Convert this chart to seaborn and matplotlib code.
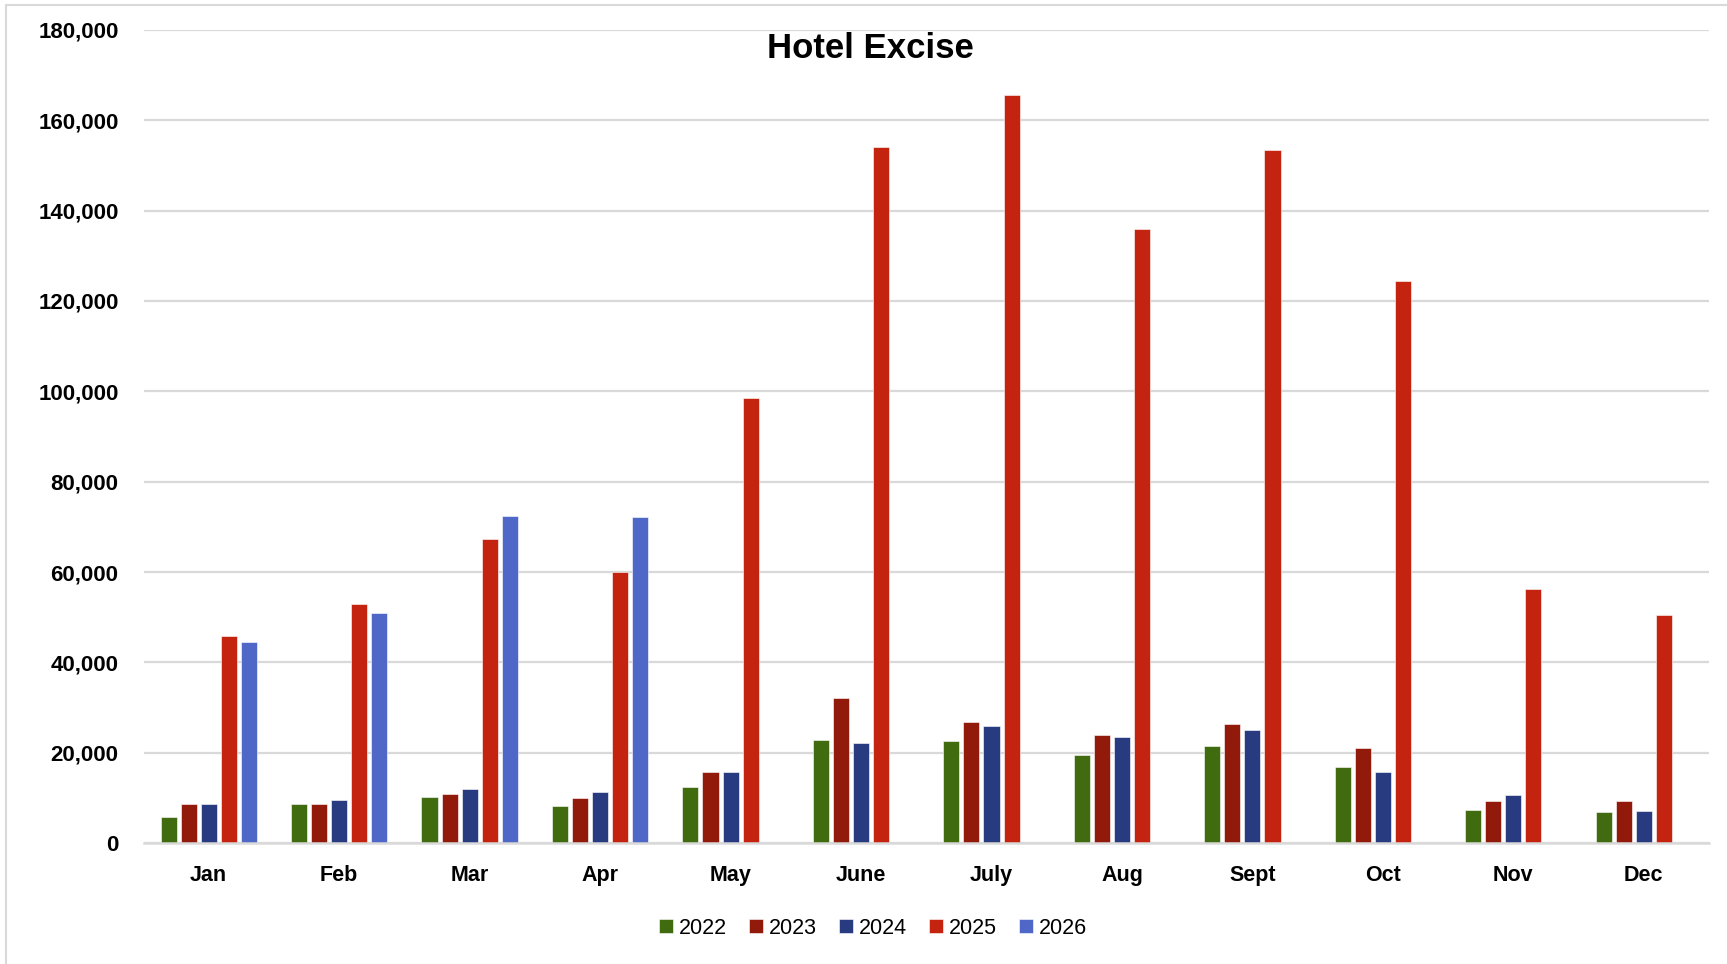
import matplotlib
matplotlib.use("Agg")
import matplotlib.pyplot as plt
import seaborn as sns
import pandas as pd
import numpy as np
from matplotlib.patches import Rectangle
from matplotlib.ticker import FuncFormatter

months = ["Jan", "Feb", "Mar", "Apr", "May", "June", "July", "Aug", "Sept", "Oct", "Nov", "Dec"]
years = ["2022", "2023", "2024", "2025", "2026"]
v2022 = [5800, 8700, 10100, 8100, 12400, 22700, 22500, 19400, 21400, 16800, 7400, 6900]
v2023 = [8600, 8700, 10900, 10000, 15700, 32100, 26900, 24000, 26400, 21100, 9400, 9200]
v2024 = [8600, 9600, 12000, 11200, 15700, 22100, 26000, 23400, 25000, 15800, 10600, 7000]
v2025 = [45800, 53000, 67300, 59900, 98500, 154100, 165600, 135900, 153400, 124400, 56300, 50500]
v2026 = [44500, 51000, 72400, 72100, np.nan, np.nan, np.nan, np.nan, np.nan, np.nan, np.nan, np.nan]
colors = ["#406b0e", "#921a0a", "#283a80", "#c4240f", "#4f68c8"]

series = [v2022, v2023, v2024, v2025, v2026]
rows = []
for y, vals in zip(years, series):
    for m, v in zip(months, vals):
        rows.append({"Month": m, "Year": y, "Value": v})
df = pd.DataFrame(rows)

sns.set_theme(style="white")
plt.rcParams["font.family"] = ["Liberation Sans", "DejaVu Sans"]
plt.rcParams["text.color"] = "black"
plt.rcParams["xtick.color"] = "black"
plt.rcParams["ytick.color"] = "black"

fig = plt.figure(figsize=(17.27, 9.64), dpi=100)
ax = fig.add_axes([143.5 / 1727, (964 - 843) / 964, (1709 - 143.5) / 1727, (843 - 30) / 964])

sns.barplot(data=df, x="Month", y="Value", hue="Year", order=months, hue_order=years,
            palette=colors, width=0.77, gap=0.2, ax=ax, saturation=1, legend=True,
            edgecolor="white", linewidth=0.4)

ax.set_ylim(0, 180000)
ax.set_xlim(-0.5, 11.5)
ax.set_yticks(np.arange(0, 180001, 20000))
ax.yaxis.set_major_formatter(FuncFormatter(lambda v, p: f"{int(v):,}"))
ax.grid(axis="y", color="#d9d9d9", linewidth=1.6)
ax.set_axisbelow(True)
for s in ["top", "right", "left"]:
    ax.spines[s].set_visible(False)
ax.spines["bottom"].set_color("#d9d9d9")
ax.spines["bottom"].set_linewidth(1.8)
ax.tick_params(axis="both", length=0)
ax.tick_params(axis="y", pad=18, labelsize=16, labelcolor="black")
ax.tick_params(axis="x", pad=16, labelsize=15.5, labelcolor="black")
for lbl in ax.get_yticklabels() + ax.get_xticklabels():
    lbl.set_fontweight("bold")
ax.set_xlabel("")
ax.set_ylabel("")

handles, labels = ax.get_legend_handles_labels()
ax.get_legend().remove()
leg = fig.legend(handles, labels, loc="center", bbox_to_anchor=(873 / 1727, 36 / 964), ncol=5,
                 frameon=False, fontsize=15.5, handlelength=0.65, handleheight=0.65,
                 handletextpad=0.3, columnspacing=1.0)
for t in leg.get_texts():
    t.set_color("black")

fig.text(870 / 1727, 1 - 48 / 964, "Hotel Excise", ha="center", va="center",
         fontsize=25, fontweight="bold", color="black")

fig.patches.append(Rectangle((5.5 / 1727, -0.02), 1.05, 1 - 5.5 / 964 + 0.02,
                             transform=fig.transFigure, fill=False,
                             edgecolor="#d9d9d9", linewidth=1.5))

fig.savefig("out.png", dpi=100, facecolor="white")
